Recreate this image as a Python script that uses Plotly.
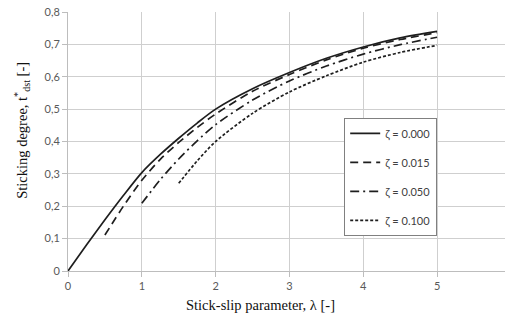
import plotly.graph_objects as go

# Data
lam_0 = [0, 0.25, 0.5, 0.75, 1.0, 1.25, 1.5, 1.75, 2.0, 2.5, 3.0, 3.5, 4.0, 4.5, 5.0]
t_0 = [0, 0.08, 0.158, 0.233, 0.304, 0.36, 0.41, 0.457, 0.5, 0.563, 0.613, 0.657, 0.692, 0.72, 0.74]

lam_015 = [0.5, 0.75, 1.0, 1.25, 1.5, 1.75, 2.0, 2.5, 3.0, 3.5, 4.0, 4.5, 5.0]
t_015 = [0.111, 0.20, 0.28, 0.345, 0.397, 0.443, 0.485, 0.555, 0.607, 0.652, 0.688, 0.715, 0.736]

lam_050 = [1.0, 1.25, 1.5, 1.75, 2.0, 2.5, 3.0, 3.5, 4.0, 4.5, 5.0]
t_050 = [0.209, 0.282, 0.346, 0.402, 0.452, 0.528, 0.587, 0.633, 0.67, 0.699, 0.722]

lam_100 = [1.5, 1.75, 2.0, 2.5, 3.0, 3.5, 4.0, 4.5, 5.0]
t_100 = [0.271, 0.34, 0.40, 0.487, 0.553, 0.603, 0.645, 0.675, 0.697]

series_names = ["ζ = 0.000", "ζ = 0.015", "ζ = 0.050", "ζ = 0.100"]
x_ticks = [0, 1, 2, 3, 4, 5]
y_ticks = [0, 0.1, 0.2, 0.3, 0.4, 0.5, 0.6, 0.7, 0.8]
y_tick_labels = ["0", "0,1", "0,2", "0,3", "0,4", "0,5", "0,6", "0,7", "0,8"]

xs = [lam_0, lam_015, lam_050, lam_100]
ys = [t_0, t_015, t_050, t_100]
dashes = ["solid", "8px,5px", "9px,4px,2px,4px", "3px,2px"]

fig = go.Figure()
for i, (x, y, name, d) in enumerate(zip(xs, ys, series_names, dashes)):
    fig.add_trace(go.Scatter(
        x=x, y=y, name=name, mode="lines", line_shape="spline",
        line_smoothing=0.8,
        legendgroup=f"g{i}",
        line=dict(color="#1e1e1e", width=1.7, dash=d),
    ))

grid_c = "#cfcfcf"
tick_font = dict(family="Lato, Open Sans, sans-serif", size=11, color="#595959")
title_font = dict(family="Liberation Serif, Times New Roman, serif", size=14.5, color="#111")

fig.update_layout(
    width=505, height=320,
    margin=dict(l=68, r=0, t=12, b=49),
    paper_bgcolor="white", plot_bgcolor="white",
    showlegend=True,
    legend=dict(
        x=0.632, y=0.591, xanchor="left", yanchor="top",
        bgcolor="white", bordercolor="#808080", borderwidth=1,
        font=dict(family="Lato, Open Sans, sans-serif", size=11, color="#404040"),
        tracegroupgap=10,
    ),
    annotations=[
        dict(text="Stick-slip parameter, λ [-]", xref="paper", yref="paper",
             x=0.4416, y=-0.131, xanchor="center", yanchor="middle", showarrow=False,
             font=title_font),
        dict(text="Sticking degree, t<sup>*</sup><sub>dst</sub> [-]", xref="paper", yref="paper",
             x=-0.106, y=0.544, xanchor="center", yanchor="middle", showarrow=False,
             textangle=-90, font=title_font),
    ],
)

fig.update_xaxes(
    range=[0, 5.92], tickvals=x_ticks, ticktext=[str(v) for v in x_ticks],
    showgrid=True, gridcolor=grid_c, gridwidth=1,
    showline=True, linecolor="#bdbdbd", linewidth=1,
    ticks="outside", ticklen=5, tickcolor="#bdbdbd",
    tickfont=tick_font, zeroline=False,
)
fig.update_yaxes(
    range=[0, 0.8], tickvals=y_ticks, ticktext=y_tick_labels,
    showgrid=True, gridcolor=grid_c, gridwidth=1,
    showline=True, linecolor="#bdbdbd", linewidth=1,
    ticks="outside", ticklen=5, tickcolor="#bdbdbd",
    tickfont=tick_font, zeroline=False,
)

fig.write_html(
    "out.html",
    config={"displayModeBar": False},
    post_script="document.body.style.margin='0';document.body.style.overflow='hidden';",
)
